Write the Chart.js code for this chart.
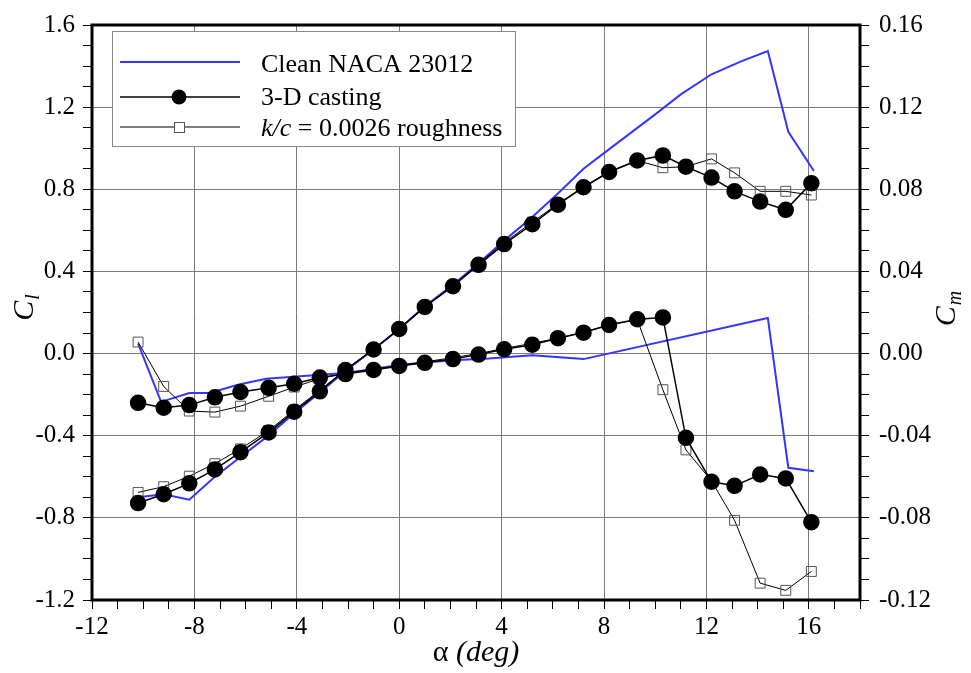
<!DOCTYPE html>
<html>
<head>
<meta charset="utf-8">
<script src="https://cdn.jsdelivr.net/npm/chart.js@4.4.0/dist/chart.umd.min.js"></script>
<style>
body { margin: 0; background: #fff; }
</style>
</head>
<body>
<canvas id="airfoilChart" width="971" height="673"></canvas>
<script>
// angle of attack (deg) for the measured runs
var alphaCasting = [-10.2, -9.2, -8.2, -7.2, -6.2, -5.1, -4.1, -3.1, -2.1, -1.0, 0.0, 1.0, 2.1, 3.1, 4.1, 5.2, 6.2, 7.2, 8.2, 9.3, 10.3, 11.2, 12.2, 13.1, 14.1, 15.1, 16.1];
var clCasting = [-0.728, -0.685, -0.632, -0.564, -0.48, -0.384, -0.283, -0.184, -0.08, 0.02, 0.12, 0.227, 0.328, 0.432, 0.533, 0.63, 0.725, 0.81, 0.884, 0.94, 0.965, 0.91, 0.857, 0.79, 0.74, 0.70, 0.83];
var cmCasting = [-0.0240, -0.0264, -0.0251, -0.0213, -0.0187, -0.0167, -0.0147, -0.0117, -0.0100, -0.0080, -0.0060, -0.0045, -0.0027, -0.0005, 0.0021, 0.0043, 0.0075, 0.0102, 0.0139, 0.0167, 0.0176, -0.0410, -0.0624, -0.0644, -0.0589, -0.0608, -0.0821];

var alphaRough = [-10.2, -9.2, -8.2, -7.2, -6.2, -5.1, -4.1, -3.1, -2.1, -1.0, 0.0, 1.0, 2.1, 3.1, 4.1, 5.2, 6.2, 7.2, 8.2, 9.3, 10.3, 11.2, 12.2, 13.1, 14.1, 15.1, 16.1];
var clRough = [-0.676, -0.648, -0.597, -0.536, -0.464, -0.375, -0.275, -0.178, -0.078, 0.022, 0.122, 0.228, 0.332, 0.438, 0.54, 0.64, 0.73, 0.812, 0.886, 0.94, 0.905, 0.91, 0.948, 0.88, 0.79, 0.79, 0.772];
var cmRough = [0.0056, -0.0160, -0.0280, -0.0285, -0.0256, -0.0208, -0.0163, -0.0122, -0.0095, -0.0075, -0.0058, -0.0040, -0.0020, 0.0000, 0.0025, 0.0050, 0.0075, 0.0105, 0.0140, 0.0165, -0.0176, -0.0469, -0.0620, -0.0812, -0.1118, -0.1153, -0.1061];

var alphaCleanCl = [-10.2, -9.2, -8.2, -7.2, -6.2, -5.2, -4.1, -3.1, -2.1, -1.0, 0.0, 1.0, 2.1, 3.1, 4.1, 5.2, 6.2, 7.2, 8.0, 10.0, 11.0, 12.2, 13.4, 14.4, 15.2, 16.2];
var clClean = [-0.70, -0.685, -0.712, -0.60, -0.504, -0.408, -0.29, -0.19, -0.085, 0.02, 0.12, 0.23, 0.335, 0.44, 0.55, 0.665, 0.78, 0.90, 0.976, 1.165, 1.262, 1.36, 1.425, 1.473, 1.08, 0.889];
var alphaCleanCm = [-10.2, -9.3, -8.2, -7.4, -6.3, -5.2, -4.0, -2.0, -1.0, 0.0, 1.0, 2.1, 3.5, 5.2, 7.2, 14.4, 15.2, 16.2];
var cmClean = [0.0048, -0.0235, -0.0192, -0.0192, -0.0152, -0.0123, -0.0112, -0.0093, -0.0075, -0.0056, -0.0043, -0.0032, -0.0024, -0.0008, -0.0027, 0.0173, -0.0556, -0.0573];

var legendLabels = ['Clean NACA 23012', '3-D casting', 'k/c = 0.0026 roughness'];

var serif = '"Liberation Serif", "Times New Roman", serif';
var blue = '#3535ff';
var gridGray = '#7a7a7a';

function toPoints(xs, ys) {
    return xs.map(function (x, i) { return { x: x, y: ys[i] }; });
}

function isMajor(v, step) {
    return Math.abs(Math.round(v / step) * step - v) < step * 1e-4;
}

// thick frame around the plot area
var framePlugin = {
    id: 'frame',
    afterDatasetsDraw: function (chart) {
        var a = chart.chartArea, c = chart.ctx;
        c.save();
        c.strokeStyle = '#000';
        c.lineWidth = 3;
        c.strokeRect(a.left, a.top, a.right - a.left, a.bottom - a.top);
        c.restore();
    }
};

// legend box, drawn by hand so it can sit inside the plot
var legendPlugin = {
    id: 'boxLegend',
    afterDraw: function (chart) {
        var c = chart.ctx;
        c.save();
        c.fillStyle = '#fff';
        c.fillRect(112, 31, 403, 115);
        c.strokeStyle = '#888';
        c.lineWidth = 1;
        c.strokeRect(112.5, 31.5, 403, 115);

        var rows = [62, 97, 127];
        var bases = [72, 105, 136];
        c.lineWidth = 2;
        c.strokeStyle = blue;
        c.beginPath(); c.moveTo(120, rows[0]); c.lineTo(240, rows[0]); c.stroke();

        c.strokeStyle = '#000';
        c.lineWidth = 1.5;
        c.beginPath(); c.moveTo(120, rows[1]); c.lineTo(240, rows[1]); c.stroke();
        c.fillStyle = '#000';
        c.beginPath(); c.arc(179, rows[1], 7.5, 0, Math.PI * 2); c.fill();

        c.lineWidth = 1;
        c.beginPath(); c.moveTo(120, rows[2]); c.lineTo(240, rows[2]); c.stroke();
        c.fillStyle = '#fff';
        c.fillRect(174, rows[2] - 5, 10, 10);
        c.strokeStyle = '#555';
        c.strokeRect(174.5, rows[2] - 4.5, 10, 10);

        c.fillStyle = '#000';
        c.textBaseline = 'alphabetic';
        c.textAlign = 'left';
        c.font = '26px ' + serif;
        c.fillText(legendLabels[0], 261, bases[0]);
        c.fillText(legendLabels[1], 261, bases[1]);
        var parts = legendLabels[2].split(' = ');
        c.font = 'italic 26px ' + serif;
        c.fillText(parts[0], 261, bases[2]);
        var w = c.measureText(parts[0]).width;
        c.font = '26px ' + serif;
        c.fillText(' = ' + parts[1], 261 + w, bases[2]);
        c.restore();
    }
};

// axis titles: C_l, C_m and alpha (deg)
var titlePlugin = {
    id: 'axisTitles',
    afterDraw: function (chart) {
        var c = chart.ctx;
        c.save();
        c.fillStyle = '#000';
        c.textBaseline = 'alphabetic';

        function rotatedSymbol(x, y, main, sub) {
            c.save();
            c.translate(x, y);
            c.rotate(-Math.PI / 2);
            c.font = 'italic 30px ' + serif;
            var w1 = c.measureText(main).width;
            c.font = 'italic 20px ' + serif;
            var w2 = c.measureText(sub).width;
            var start = -(w1 + w2) / 2;
            c.font = 'italic 30px ' + serif;
            c.fillText(main, start, 0);
            c.font = 'italic 20px ' + serif;
            c.fillText(sub, start + w1 + 1, 6);
            c.restore();
        }
        rotatedSymbol(33, 308, 'C', 'l');
        rotatedSymbol(955, 309, 'C', 'm');

        c.font = '30px ' + serif;
        var wa = c.measureText('\u03b1').width;
        c.font = 'italic 30px ' + serif;
        var wd = c.measureText(' (deg)').width;
        var x0 = 476 - (wa + wd) / 2;
        c.font = '30px ' + serif;
        c.fillText('\u03b1', x0, 661);
        c.font = 'italic 30px ' + serif;
        c.fillText(' (deg)', x0 + wa, 661);
        c.restore();
    }
};

var tickFont = { family: serif, size: 25 };

var ctx = document.getElementById('airfoilChart').getContext('2d');
var airfoilChart = new Chart(ctx, {
    type: 'line',
    data: {
        datasets: [{
                label: legendLabels[1],
                data: toPoints(alphaCasting, clCasting),
                yAxisID: 'y',
                borderColor: '#000',
                borderWidth: 1.5,
                pointStyle: 'circle',
                pointRadius: 7.5,
                pointBackgroundColor: '#000',
                pointBorderColor: '#000',
                order: 1
            }, {
                label: legendLabels[1] + ' Cm',
                data: toPoints(alphaCasting, cmCasting),
                yAxisID: 'y2',
                borderColor: '#000',
                borderWidth: 1.5,
                pointStyle: 'circle',
                pointRadius: 7.5,
                pointBackgroundColor: '#000',
                pointBorderColor: '#000',
                order: 1
            }, {
                label: legendLabels[2],
                data: toPoints(alphaRough, clRough),
                yAxisID: 'y',
                borderColor: '#000',
                borderWidth: 1,
                pointStyle: 'rect',
                pointRadius: 7,
                pointBackgroundColor: 'rgba(0,0,0,0)',
                pointBorderColor: '#555',
                pointBorderWidth: 1,
                order: 2
            }, {
                label: legendLabels[2] + ' Cm',
                data: toPoints(alphaRough, cmRough),
                yAxisID: 'y2',
                borderColor: '#000',
                borderWidth: 1,
                pointStyle: 'rect',
                pointRadius: 7,
                pointBackgroundColor: 'rgba(0,0,0,0)',
                pointBorderColor: '#555',
                pointBorderWidth: 1,
                order: 2
            }, {
                label: legendLabels[0],
                data: toPoints(alphaCleanCl, clClean),
                yAxisID: 'y',
                borderColor: blue,
                borderWidth: 2,
                pointRadius: 0,
                order: 3
            }, {
                label: legendLabels[0] + ' Cm',
                data: toPoints(alphaCleanCm, cmClean),
                yAxisID: 'y2',
                borderColor: blue,
                borderWidth: 2,
                pointRadius: 0,
                order: 3
            }]
    },
    options: {
        responsive: false,
        animation: false,
        layout: { padding: { top: 17, left: 0, right: 0, bottom: 0 } },
        plugins: {
            legend: { display: false },
            tooltip: { enabled: false }
        },
        scales: {
            x: {
                type: 'linear',
                min: -12,
                max: 18,
                afterFit: function (s) { s.height = 73; },
                border: { display: false },
                grid: {
                    color: function (c) { return c.tick && isMajor(c.tick.value, 4) ? gridGray : 'rgba(0,0,0,0)'; },
                    tickColor: '#000',
                    tickLength: 9
                },
                ticks: {
                    stepSize: 1,
                    autoSkip: false,
                    maxRotation: 0,
                    padding: 3,
                    color: '#000',
                    font: tickFont,
                    callback: function (v) { return isMajor(v, 4) && v < 18 ? String(v) : ''; }
                }
            },
            y: {
                position: 'left',
                min: -1.2,
                max: 1.6,
                afterFit: function (s) { s.width = 92; },
                border: { display: false },
                grid: {
                    color: function (c) { return c.tick && isMajor(c.tick.value, 0.4) ? gridGray : 'rgba(0,0,0,0)'; },
                    tickColor: '#000',
                    tickLength: 9
                },
                ticks: {
                    stepSize: 0.1,
                    autoSkip: false,
                    padding: 8,
                    color: '#000',
                    font: tickFont,
                    callback: function (v) { return isMajor(v, 0.4) ? v.toFixed(1) : ''; }
                }
            },
            y2: {
                position: 'right',
                min: -0.12,
                max: 0.16,
                afterFit: function (s) { s.width = 111; },
                border: { display: false },
                grid: {
                    drawOnChartArea: false,
                    tickColor: '#000',
                    tickLength: 9
                },
                ticks: {
                    stepSize: 0.01,
                    autoSkip: false,
                    padding: 10,
                    color: '#000',
                    font: tickFont,
                    callback: function (v) { return isMajor(v, 0.04) ? v.toFixed(2) : ''; }
                }
            }
        }
    },
    plugins: [framePlugin, legendPlugin, titlePlugin]
});
</script>
</body>
</html>
